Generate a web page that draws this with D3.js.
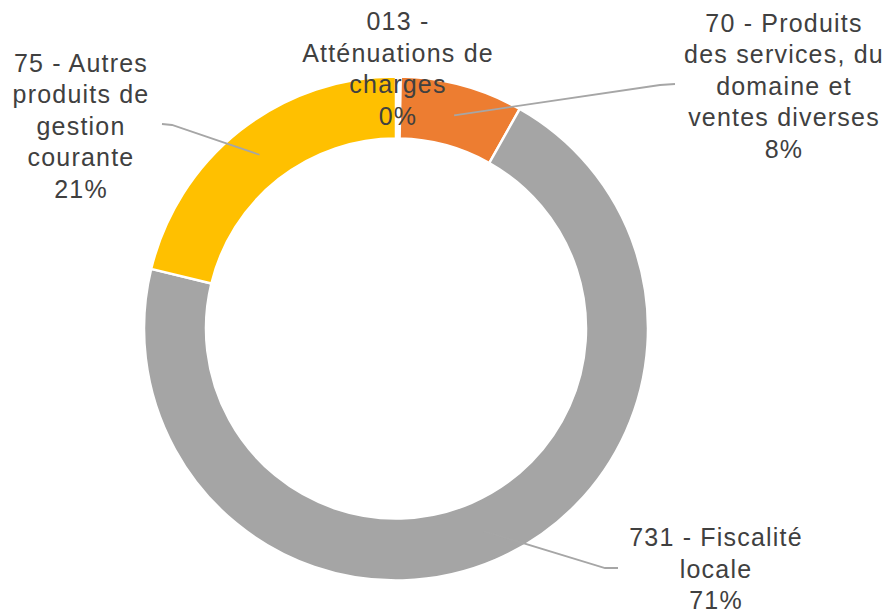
<!DOCTYPE html>
<html>
<head>
<meta charset="utf-8">
<script src="https://cdn.jsdelivr.net/npm/d3@7/dist/d3.min.js"></script>
<style>
  html, body { margin: 0; padding: 0; background: #ffffff; }
  svg { display: block; }
</style>
</head>
<body>
<svg id="chart" width="888" height="612"></svg>
<script>
// ---- data ----
const categories = ["013", "70", "731", "75"];
const labelLines = [
  ["013 -", "Atténuations de", "charges"],
  ["70 - Produits", "des services, du", "domaine et", "ventes diverses"],
  ["731 - Fiscalité", "locale"],
  ["75 - Autres", "produits de", "gestion", "courante"]
];
const shares = [0.3, 7.87, 70.63, 21.2];
const colors = ["#ffffff", "#ED7D31", "#A5A5A5", "#FFC000"];

// ---- layout (not data) ----
const W = 888, H = 612;
const cx = 396, cy = 328.5;
const outerR = 252, innerR = 190;
const labelLayout = [
  { x: 398, y: 30, leader: null },
  { x: 784, y: 31.5, leader: [[660, 85], [675, 84]] },
  { x: 716, y: 546, leader: [[605, 568], [618, 568]] },
  { x: 81, y: 71.5, leader: [[172, 125], [162, 124]] }
];
const lineH = 31.5;

const svg = d3.select("#chart");
const g = svg.append("g").attr("transform", `translate(${cx},${cy})`);

const data = categories.map((c, i) => ({ cat: c, value: shares[i], i }));
const total = d3.sum(shares);
const pie = d3.pie().value(d => d.value).sort(null).startAngle(0).endAngle(2 * Math.PI);
const arcs = pie(data);
const arc = d3.arc().innerRadius(innerR).outerRadius(outerR);
const midArc = d3.arc().innerRadius((innerR + outerR) / 2).outerRadius((innerR + outerR) / 2);

g.selectAll("path.slice")
  .data(arcs)
  .join("path")
  .attr("class", "slice")
  .attr("d", arc)
  .attr("fill", d => colors[d.data.i])
  .attr("stroke", "#ffffff")
  .attr("stroke-width", 2.5)
  .attr("stroke-linejoin", "miter");

// leader lines
arcs.forEach(d => {
  const lay = labelLayout[d.data.i];
  if (!lay.leader) return;
  const c = midArc.centroid(d);
  const pts = [[cx + c[0], cy + c[1]]].concat(lay.leader);
  svg.append("path")
    .attr("d", d3.line()(pts))
    .attr("fill", "none")
    .attr("stroke", "#A6A6A6")
    .attr("stroke-width", 1.8);
});

// labels
arcs.forEach(d => {
  const i = d.data.i;
  const lay = labelLayout[i];
  const pct = Math.round(d.data.value / total * 100) + "%";
  const lines = labelLines[i].concat([pct]);
  const t = svg.append("text")
    .attr("x", lay.x)
    .attr("y", lay.y)
    .attr("text-anchor", "middle")
    .attr("font-family", "'Liberation Sans', Arial, sans-serif")
    .attr("font-size", 25)
    .attr("letter-spacing", "1.2px")
    .attr("fill", "#404040");
  lines.forEach((ln, k) => {
    t.append("tspan")
      .attr("x", lay.x)
      .attr("y", lay.y + k * lineH)
      .text(ln);
  });
});
</script>
</body>
</html>
